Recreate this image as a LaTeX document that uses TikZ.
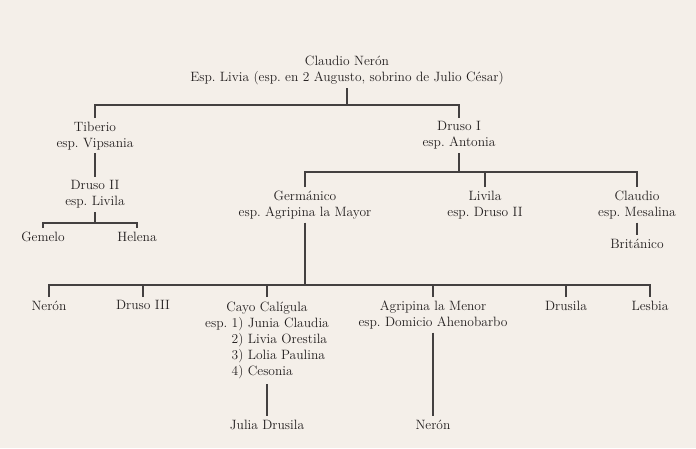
\documentclass[tikz,border=0pt]{standalone}
\usepackage{tikz}
\usetikzlibrary{positioning}
\definecolor{paper}{RGB}{244,239,233}
\definecolor{ink}{RGB}{34,30,30}
\frenchspacing
\tikzstyle{person} = [text=ink, align=center, inner sep=3.5pt, anchor=north, font=\fontsize{13.5}{16}\selectfont]
\tikzstyle{link} = [draw=ink!85, line width=1.4pt]
\begin{document}
\begin{tikzpicture}[x=1pt,y=-1pt]
	\fill [paper] (0,0) rectangle (696,448);
	\useasboundingbox (0,0) rectangle (696,448);
	\node [person] (root) at (347,52) {Claudio Nerón\\Esp. Livia (esp. en 2 Augusto, sobrino de Julio César)};
	\node [person] (tiberio) at (95,118) {Tiberio\\esp. Vipsania};
	\node [person] (drusoI) at (459,118) {Druso I\\esp. Antonia};
	\node [person] (drusoII) at (95,177) {Druso II\\esp. Livila};
	\node [person] (gemelo) at (43,228) {Gemelo};
	\node [person] (helena) at (137,228) {Helena};
	\node [person] (germanico) at (305,187) {Germánico\\esp. Agripina la Mayor};
	\node [person] (livila) at (485,187) {Livila\\esp. Druso II};
	\node [person] (claudio) at (637,187) {Claudio\\esp. Mesalina};
	\node [person] (britanico) at (637,235) {Británico};
	\node [person] (neron) at (49,297) {Nerón};
	\node [person] (drusoIII) at (143,297) {Druso III};
	\node [person] (cayo) at (267,297) {\begin{tabular}{@{}r@{ }l@{}}\multicolumn{2}{c}{Cayo Calígula}\\esp. & 1) Junia Claudia\\ & 2) Livia Orestila\\ & 3) Lolia Paulina\\ & 4) Cesonia\end{tabular}};
	\node [person] (agripina) at (433,297) {Agripina la Menor\\esp. Domicio Ahenobarbo};
	\node [person] (drusila) at (566,297) {Drusila};
	\node [person] (lesbia) at (650,297) {Lesbia};
	\node [person] (julia) at (267,416) {Julia Drusila};
	\node [person] (neronII) at (433,416) {Nerón};
	\coordinate (jroot) at (root.south |- 0,105);
	\coordinate (jdrusoII) at (drusoII.south |- 0,223);
	\coordinate (jdrusoI) at (drusoI.south |- 0,172);
	\coordinate (jgerm) at (germanico.south |- 0,285);
	\draw [link] (root.south) -- (jroot);
	\draw [link] (tiberio.north) |- (jroot) -| (drusoI.north);
	\draw [link] (tiberio.south) -- (drusoII.north);
	\draw [link] (drusoII.south) -- (jdrusoII);
	\draw [link] (gemelo.north) |- (jdrusoII) -| (helena.north);
	\draw [link] (drusoI.south) -- (jdrusoI);
	\draw [link] (germanico.north) |- (jdrusoI) -| (claudio.north);
	\draw [link] (livila.north) -- (livila.north |- jdrusoI);
	\draw [link] (claudio.south) -- (britanico.north);
	\draw [link] (germanico.south) -- (jgerm);
	\draw [link] (neron.north) |- (jgerm) -| (lesbia.north);
	\draw [link] (drusoIII.north) -- (drusoIII.north |- jgerm);
	\draw [link] (cayo.north) -- (cayo.north |- jgerm);
	\draw [link] (agripina.north) -- (agripina.north |- jgerm);
	\draw [link] (drusila.north) -- (drusila.north |- jgerm);
	\draw [link] (cayo.south) -- (julia.north);
	\draw [link] (agripina.south) -- (neronII.north);
\end{tikzpicture}
\end{document}
